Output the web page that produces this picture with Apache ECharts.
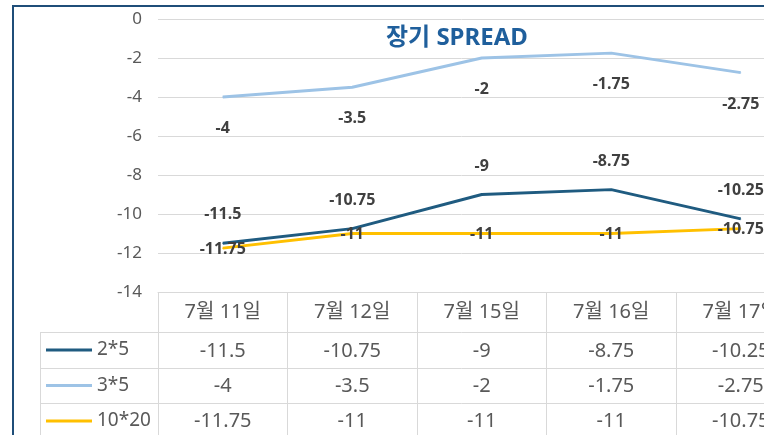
<!DOCTYPE html>
<html>
<head>
<meta charset="utf-8">
<script src="https://cdn.jsdelivr.net/npm/echarts@6/dist/echarts.min.js"></script>
<style>
  html, body { margin: 0; padding: 0; background: #fff; }
  #spreadChart { width: 764px; height: 435px; }
</style>
</head>
<body>
<div id="spreadChart"></div>
<script>
var categories = ['7월 11일', '7월 12일', '7월 15일', '7월 16일', '7월 17일'];
var seriesNames = ['2*5', '3*5', '10*20'];
var spread2x5 = [-11.5, -10.75, -9, -8.75, -10.25];
var spread3x5 = [-4, -3.5, -2, -1.75, -2.75];
var spread10x20 = [-11.75, -11, -11, -11, -10.75];
var yMin = -14, yMax = 0, yStep = 2;

var rows = [spread2x5, spread3x5, spread10x20];
var colors = ['#1f5b80', '#9dc3e6', '#ffc000'];
var font = '"Noto Sans", "Noto Sans CJK KR", sans-serif';
var gridColor = '#d9d9d9';
var textColor = '#595959';

var myChart = echarts.init(document.getElementById('spreadChart'));

// data table rows under the plot: one extra category axis per series
var rowOffsets = [40, 76, 111];
var rowMargins = [8, 7, 7];
var xAxes = [{
    type: 'category',
    data: categories,
    position: 'bottom',
    axisLine: { show: true, onZero: false, lineStyle: { color: gridColor, width: 1 } },
    axisTick: { show: true, inside: false, alignWithLabel: false, interval: 0, length: 150, lineStyle: { color: gridColor, width: 1 } },
    axisLabel: { interval: 0, margin: 9, fontSize: 20, lineHeight: 22, color: textColor, fontFamily: font }
}];
rows.forEach(function(vals, i) {
    xAxes.push({
        type: 'category',
        data: categories,
        position: 'bottom',
        offset: rowOffsets[i],
        axisLine: { show: true, onZero: false, lineStyle: { color: gridColor, width: 1 } },
        axisTick: { show: false },
        axisLabel: {
            interval: 0, margin: rowMargins[i], fontSize: 20, lineHeight: 22, color: textColor, fontFamily: font,
            formatter: function(v, idx) { return String(vals[idx]); }
        }
    });
});

var labelPos = [
    { position: 'top', distance: 20 },
    { position: 'bottom', distance: 23 },
    { position: 'inside', offset: [0, 1] }
];

var series = rows.map(function(vals, i) {
    return {
        name: seriesNames[i],
        type: 'line',
        data: vals,
        symbol: 'circle',
        symbolSize: 1,
        lineStyle: { color: colors[i], width: 3 },
        itemStyle: { color: colors[i] },
        label: Object.assign({
            show: true,
            fontSize: 16,
            fontWeight: 'bold',
            color: '#404040',
            fontFamily: font
        }, labelPos[i])
    };
});

var option = {
    animation: false,
    title: {
        text: '장기 SPREAD',
        left: 386,
        top: 26,
        padding: 0,
        textStyle: { fontSize: 24, fontWeight: 'bold', color: '#1f5f9c', fontFamily: font }
    },
    legend: {
        data: seriesNames,
        orient: 'vertical',
        left: 46,
        top: 340,
        padding: 0,
        icon: 'rect',
        itemWidth: 46,
        itemHeight: 3,
        itemGap: 15.5,
        textStyle: { fontSize: 19, lineHeight: 20, color: textColor, fontFamily: font }
    },
    grid: {
        left: 158,
        top: 19,
        width: 647.5,
        height: 273,
        containLabel: false,
        outerBoundsMode: 'none'
    },
    xAxis: xAxes,
    yAxis: {
        type: 'value',
        min: yMin,
        max: yMax,
        interval: yStep,
        axisLine: { show: false },
        axisTick: { show: false },
        splitLine: { lineStyle: { color: gridColor, width: 1 } },
        axisLabel: { margin: 16, fontSize: 17, color: textColor, fontFamily: font }
    },
    graphic: [
        { type: 'rect', shape: { x: 13, y: 6, width: 820, height: 520 }, style: { fill: 'none', stroke: '#1f4e79', lineWidth: 2 }, z: -1 },
        { type: 'line', shape: { x1: 40.5, y1: 332, x2: 40.5, y2: 440 }, style: { stroke: gridColor, lineWidth: 1 } },
        { type: 'line', shape: { x1: 40, y1: 332.5, x2: 158, y2: 332.5 }, style: { stroke: gridColor, lineWidth: 1 } },
        { type: 'line', shape: { x1: 40, y1: 368.5, x2: 158, y2: 368.5 }, style: { stroke: gridColor, lineWidth: 1 } },
        { type: 'line', shape: { x1: 40, y1: 403.5, x2: 158, y2: 403.5 }, style: { stroke: gridColor, lineWidth: 1 } }
    ],
    series: series
};

myChart.setOption(option);
</script>
</body>
</html>
